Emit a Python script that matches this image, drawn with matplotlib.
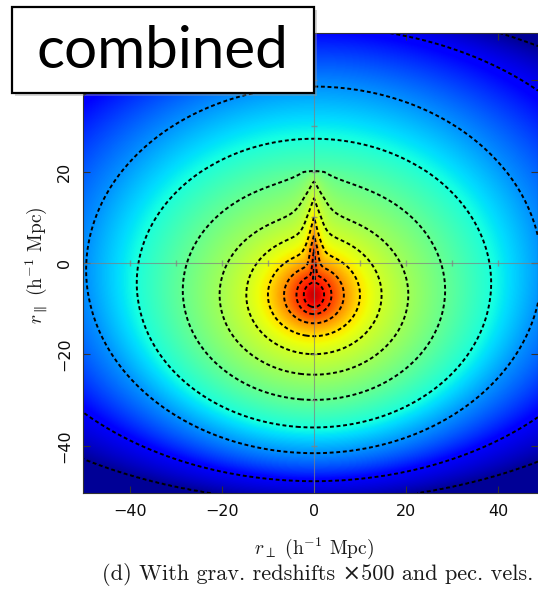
import numpy as np
import matplotlib.pyplot as plt
from matplotlib.patches import Rectangle

plt.rcParams['mathtext.fontset'] = 'cm'

# axis ranges and ticks (h^-1 Mpc)
x_range = [-50.2, 48.7]
y_range = [-50.3, 50.3]
x_ticks = [-40, -20, 0, 20, 40]
y_ticks = [-40, -20, 0, 20, 40]
y_tick_labels = ['\u221240', '\u221220', '0', '20', '']   # the 40 sits under the label box

# contours, outer to inner:
# half width across r_perp, centre on the r_par axis, squash (height / width)
contour_a = [90, 70, 49.5, 38.5, 28.5, 20.5, 14.7, 10, 6.5, 3.8, 2.2]
contour_c = [2, 2, -1.5, -4.4, -6, -7, -7, -7, -7, -7, -7]
contour_q = [0.60, 0.71, 0.81, 0.82, 0.84, 0.85, 0.88, 0.90, 0.95, 1.1, 1.2]

# finger of god along r_perp = 0: which contour tip sits at which height
spike_y = [-7, -1, 3, 6, 10, 14, 17.5, 20, 21]
spike_a = [0.6, 2.2, 3.8, 6.5, 10, 14.7, 20.5, 28.5, 90]
spike_slope = 3.5

# colour (fraction along jet) against contour size
color_a = [0.5, 2, 4, 6.5, 10, 14, 20, 28, 38, 49.5, 70, 90]
color_v = [0.93, 0.89, 0.84, 0.76, 0.67, 0.61, 0.55, 0.48, 0.39, 0.27, 0.11, 0.02]

x = np.linspace(x_range[0], x_range[1], 600)
y = np.linspace(y_range[0], y_range[1], 600)
X, Y = np.meshgrid(x, y)

# solve for the contour size passing through each point
a_sorted = contour_a[::-1]
c_sorted = contour_c[::-1]
q_sorted = contour_q[::-1]
s = np.hypot(X, Y + 3)
for _ in range(60):
    c = np.interp(s, a_sorted, c_sorted)
    q = np.interp(s, a_sorted, q_sorted)
    s = 0.5 * s + 0.5 * np.hypot(X, (Y - c) / q)

ridge = np.interp(Y, spike_y, spike_a, left=1e3, right=1e3)
S = ridge + spike_slope * np.abs(X)
p = 5
s = (s ** -p + S ** -p) ** (-1.0 / p)
s = np.maximum(s, 0.3)

v = np.interp(s, color_a, color_v)

fig = plt.figure(figsize=(5.38, 5.90), dpi=100)
ax = fig.add_axes([83 / 538, 97 / 590, 455 / 538, 460 / 590])
ax.imshow(v, extent=[x[0], x[-1], y[0], y[-1]], origin='lower', cmap='jet',
          vmin=0, vmax=1, aspect='auto', interpolation='bilinear')
cs = ax.contour(X, Y, s, levels=sorted(contour_a), colors='k', linewidths=1.4)
cs.set_linestyle((0, (2.0, 1.4)))

# crosshair with small ticks every 10
ax.axhline(0, color='0.5', lw=0.8, alpha=0.7)
ax.axvline(0, color='0.5', lw=0.8, alpha=0.7)
marks = [-40, -30, -20, -10, 10, 20, 30, 40]
ax.plot(marks, [0] * len(marks), ls='none', marker='|', ms=5, color='0.5', alpha=0.7)
ax.plot([0] * len(marks), marks, ls='none', marker='_', ms=5, color='0.5', alpha=0.7)

ax.set_xlim(x_range)
ax.set_ylim(y_range)
ax.set_xticks(x_ticks)
ax.set_xticklabels([f'{t:d}'.replace('-', '\u2212') for t in x_ticks])
ax.set_yticks(y_ticks)
ax.set_yticklabels(y_tick_labels, rotation=90, va='center')
ax.tick_params(direction='in', length=5, color='0.2', top=True, right=True,
               labelsize=11.5, labelcolor='0.05')
ax.tick_params(axis='x', pad=8)
ax.tick_params(axis='y', pad=8)
for sp in ax.spines.values():
    sp.set_color('0.2')

lab_font = ['cmr10', 'DejaVu Serif']
fig.text(314 / 538, 1 - 548 / 590, r'$r_\perp$ (h$^{-1}$ Mpc)', ha='center', va='center',
         fontsize=14, family=lab_font, color='0.1')
fig.text(37 / 538, 1 - 265 / 590, r'$r_\parallel$ (h$^{-1}$ Mpc)', ha='center', va='center',
         rotation=90, fontsize=14, family=lab_font, color='0.1')
fig.text(318 / 538, 1 - 575 / 590, '(d) With grav. redshifts \u00d7500 and pec. vels.',
         ha='center', va='center', fontsize=16, family=lab_font, color='0.1')

# label box
fig.patches.append(Rectangle((15 / 538, 1 - 96 / 590), 302 / 538, 86 / 590,
                             transform=fig.transFigure, facecolor='0.6', edgecolor='none',
                             alpha=0.4, zorder=5))
fig.patches.append(Rectangle((12 / 538, 1 - 93 / 590), 302 / 538, 86 / 590,
                             transform=fig.transFigure, facecolor='white', edgecolor='black',
                             lw=1.6, zorder=6))
fig.text(162 / 538, 1 - 52 / 590, 'combined', ha='center', va='center',
         fontsize=42, family='Lato', zorder=7)

fig.savefig('out.png', dpi=100)
